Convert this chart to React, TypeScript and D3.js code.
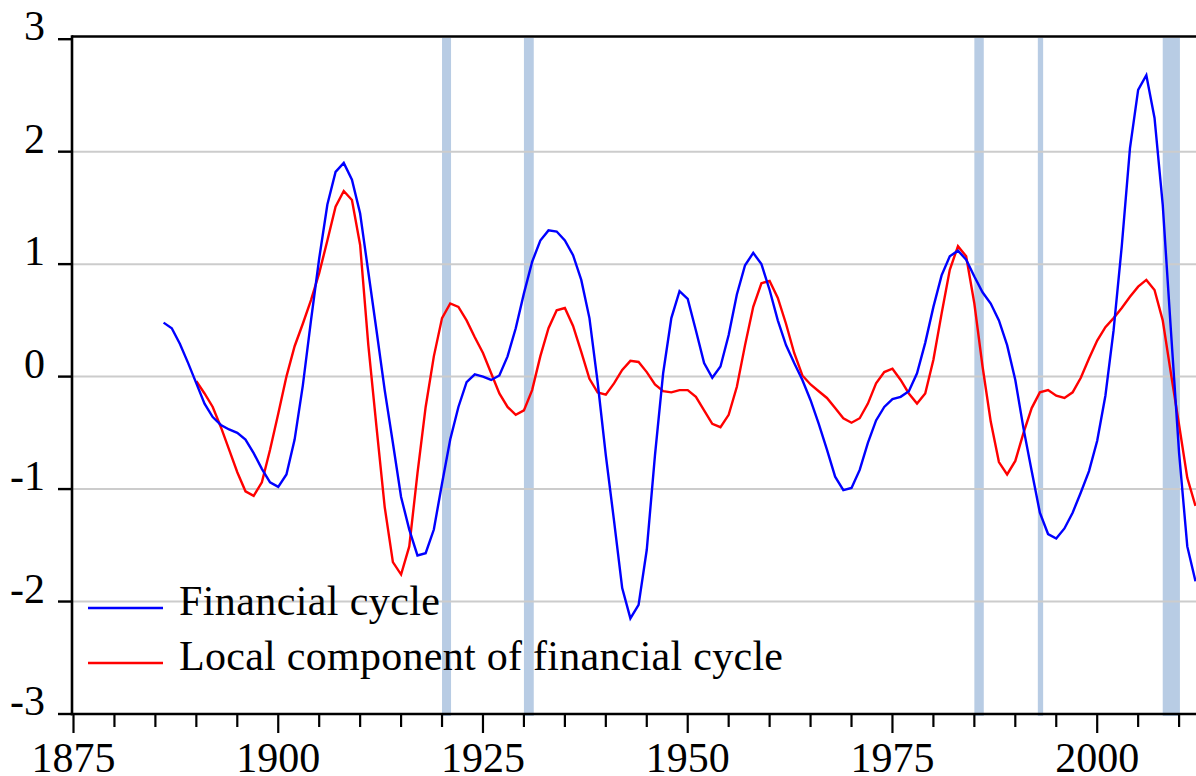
import React from "react";
import * as d3 from "d3";

const W = 1196;
const H = 776;

const yearsFinancial: number[] = d3.range(1886, 2013);
const financialCycle: number[] = [
  0.48, 0.43, 0.29, 0.12, -0.06, -0.24, -0.36, -0.43, -0.47, -0.5, // 1886-1895
  -0.56, -0.68, -0.82, -0.94, -0.98, -0.87, -0.56, -0.08, 0.5, 1.05, // 1896-1905
  1.53, 1.82, 1.9, 1.75, 1.45, 0.93, 0.41, -0.12, -0.59, -1.07, // 1906-1915
  -1.36, -1.59, -1.57, -1.36, -0.95, -0.56, -0.27, -0.05, 0.02, 0.0, // 1916-1925
  -0.03, 0.01, 0.18, 0.43, 0.74, 1.02, 1.21, 1.3, 1.29, 1.21, // 1926-1935
  1.08, 0.86, 0.52, -0.05, -0.7, -1.28, -1.88, -2.15, -2.03, -1.54, // 1936-1945
  -0.7, 0.03, 0.52, 0.76, 0.69, 0.41, 0.12, -0.01, 0.09, 0.37, // 1946-1955
  0.73, 0.99, 1.1, 1.0, 0.77, 0.5, 0.28, 0.12, -0.03, -0.21, // 1956-1965
  -0.42, -0.65, -0.89, -1.01, -0.99, -0.83, -0.59, -0.39, -0.27, -0.2, // 1966-1975
  -0.18, -0.13, 0.03, 0.3, 0.62, 0.9, 1.07, 1.12, 1.04, 0.89, // 1976-1985
  0.75, 0.65, 0.5, 0.28, -0.03, -0.46, -0.84, -1.21, -1.4, -1.44, // 1986-1995
  -1.35, -1.21, -1.03, -0.84, -0.57, -0.17, 0.41, 1.16, 2.03, 2.55, // 1996-2005
  2.68, 2.3, 1.53, 0.41, -0.68, -1.51, -1.82, // 2006-2012
];

const yearsLocal: number[] = d3.range(1890, 2013);
const localComponent: number[] = [
  -0.04, -0.15, -0.27, -0.45, -0.65, -0.85, // 1890-1895
  -1.02, -1.06, -0.94, -0.65, -0.33, 0.0, 0.27, 0.47, 0.68, 0.92, // 1896-1905
  1.21, 1.51, 1.65, 1.57, 1.17, 0.28, -0.45, -1.16, -1.65, -1.76, // 1906-1915
  -1.51, -0.86, -0.27, 0.18, 0.52, 0.65, 0.62, 0.5, 0.35, 0.21, // 1916-1925
  0.03, -0.15, -0.27, -0.34, -0.3, -0.12, 0.18, 0.43, 0.59, 0.61, // 1926-1935
  0.45, 0.22, -0.02, -0.14, -0.16, -0.06, 0.06, 0.14, 0.13, 0.04, // 1936-1945
  -0.07, -0.13, -0.14, -0.12, -0.12, -0.18, -0.3, -0.42, -0.45, -0.34, // 1946-1955
  -0.09, 0.28, 0.62, 0.83, 0.85, 0.7, 0.47, 0.21, 0.01, -0.07, // 1956-1965
  -0.13, -0.19, -0.28, -0.37, -0.41, -0.37, -0.24, -0.06, 0.04, 0.07, // 1966-1975
  -0.03, -0.15, -0.24, -0.15, 0.15, 0.56, 0.95, 1.16, 1.07, 0.65, // 1976-1985
  0.09, -0.4, -0.76, -0.87, -0.75, -0.5, -0.28, -0.14, -0.12, -0.17, // 1986-1995
  -0.19, -0.14, -0.01, 0.16, 0.32, 0.44, 0.52, 0.61, 0.71, 0.8, // 1996-2005
  0.86, 0.77, 0.5, 0.03, -0.43, -0.9, -1.15, // 2006-2012
];

const recessionStart: number[] = [1920, 1930, 1985, 1992.75, 2008];
const recessionEnd: number[] = [1921.1, 1931.2, 1986.15, 1993.4, 2010.1];

const yTicks: number[] = [-3, -2, -1, 0, 1, 2, 3];
const gridValues: number[] = [-2, -1, 0, 1, 2];
const xMajorTicks: number[] = [1875, 1900, 1925, 1950, 1975, 2000];
const xMinorTicks: number[] = d3.range(1875, 2011, 5);

const legendLabels: string[] = ["Financial cycle", "Local component of financial cycle"];
const legendColors: string[] = ["#0000ff", "#ff0000"];
const legendWidths: number[] = [261, 604];

const FONT = "'Liberation Serif', 'Times New Roman', serif";

export default function App() {
  const x = d3.scaleLinear().domain([1875, 2000]).range([73.5, 1097.2]);
  const y = d3.scaleLinear().domain([-3, 3]).range([714, 39.2]);
  const left = 72;
  const bottom = 714;
  const top = 36.5;

  const line = d3
    .line<[number, number]>()
    .x((d) => x(d[0]))
    .y((d) => y(d[1]));

  const fcPath = line(yearsFinancial.map((yr, i) => [yr, financialCycle[i]]));
  const lcPath = line(yearsLocal.map((yr, i) => [yr, localComponent[i]]));

  return (
    <svg
      width={W}
      height={H}
      style={{ position: "absolute", left: 0, top: 0, background: "#fff" }}
    >
      <rect x={0} y={0} width={W} height={H} fill="#fff" />
      {/* recession bars */}
      {recessionStart.map((s, i) => (
        <rect
          key={"r" + i}
          x={x(s)}
          y={38}
          width={x(recessionEnd[i]) - x(s)}
          height={bottom - 38 + 2}
          fill="#b8cce4"
        />
      ))}
      {/* gridlines */}
      {gridValues.map((v) => (
        <line
          key={"g" + v}
          x1={left}
          x2={W}
          y1={y(v)}
          y2={y(v)}
          stroke="#cccccc"
          strokeWidth={2}
        />
      ))}
      {/* series */}
      <path d={lcPath || ""} fill="none" stroke="#ff0000" strokeWidth={2.4} strokeLinejoin="miter" />
      <path d={fcPath || ""} fill="none" stroke="#0000ff" strokeWidth={2.4} strokeLinejoin="miter" />
      {/* frame */}
      <line x1={left} x2={W} y1={top} y2={top} stroke="#000" strokeWidth={2.6} />
      <line x1={left} x2={left} y1={top - 1.3} y2={bottom + 1.3} stroke="#000" strokeWidth={2.6} />
      <line x1={left - 1.3} x2={W} y1={bottom} y2={bottom} stroke="#000" strokeWidth={2.6} />
      {/* y ticks */}
      {yTicks.map((v) => (
        <g key={"yt" + v}>
          <line x1={58} x2={left} y1={y(v)} y2={y(v)} stroke="#000" strokeWidth={2.4} />
          <text
            x={45}
            y={y(v) + 1}
            textAnchor="end"
            fontFamily={FONT}
            fontSize={42}
            fill="#000"
          >
            {v}
          </text>
        </g>
      ))}
      {/* x ticks */}
      {xMinorTicks.map((yr) => (
        <line
          key={"xm" + yr}
          x1={x(yr)}
          x2={x(yr)}
          y1={bottom}
          y2={xMajorTicks.includes(yr) ? 733 : 727}
          stroke="#000"
          strokeWidth={2.2}
        />
      ))}
      {xMajorTicks.map((yr) => (
        <text
          key={"xl" + yr}
          x={x(yr)}
          y={772}
          textAnchor="middle"
          fontFamily={FONT}
          fontSize={42}
          fill="#000"
        >
          {yr}
        </text>
      ))}
      {/* legend */}
      {legendLabels.map((lab, i) => (
        <g key={"lg" + i}>
          <line
            x1={88}
            x2={163}
            y1={608 + i * 55}
            y2={608 + i * 55}
            stroke={legendColors[i]}
            strokeWidth={2.4}
          />
          <text
            x={179}
            y={615 + i * 55}
            fontFamily={FONT}
            fontSize={42}
            textLength={legendWidths[i]}
            lengthAdjust="spacing"
            fill="#000"
          >
            {lab}
          </text>
        </g>
      ))}
    </svg>
  );
}
